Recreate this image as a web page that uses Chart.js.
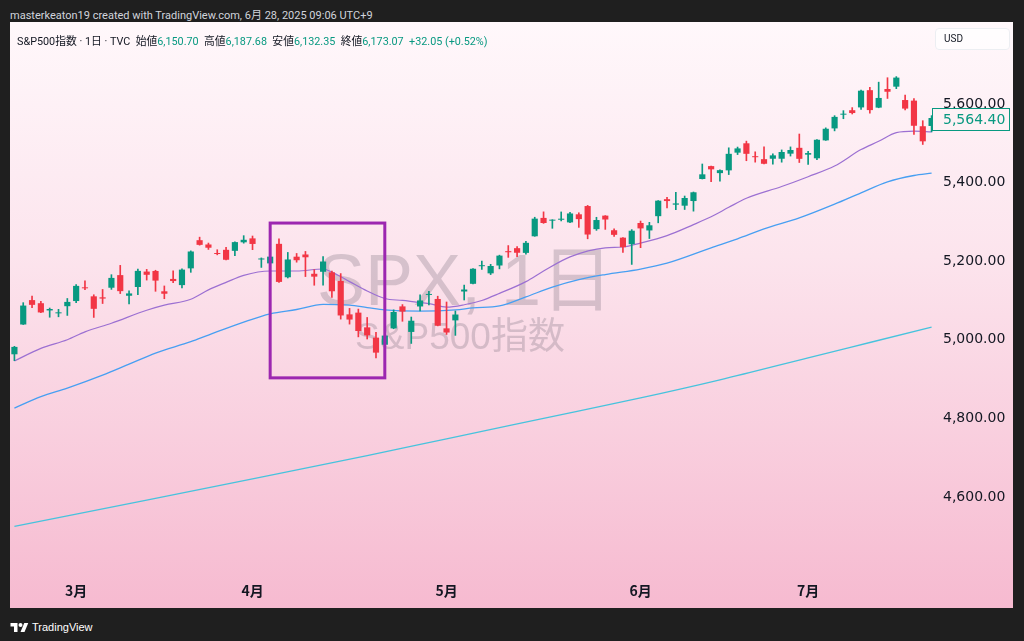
<!DOCTYPE html>
<html lang="ja">
<head>
<meta charset="utf-8">
<title>SPX, 1日</title>
<script src="https://cdn.jsdelivr.net/npm/chart.js@4"></script>
<style>
  html, body { margin: 0; padding: 0; }
  body { width: 1024px; height: 641px; background: #1f1f1f; position: relative; overflow: hidden;
         font-family: Roboto, "Noto Sans CJK JP", sans-serif; }
  #credit { position: absolute; left: 10px; top: 6px; font-size: 11px; color: #d1d4dc; }
  #panel { position: absolute; left: 10px; top: 22px; width: 1003px; height: 586px;
           background: linear-gradient(#fff8fb 0%, #fce4ed 40%, #f6bad0 100%); }
  #chart { position: absolute; left: 0; top: 0; }
  #legend { position: absolute; left: 7px; top: 10px; font-size: 10.8px; color: #131722; white-space: pre; }
  #legend .v { color: #089981; }
  #usd { position: absolute; left: 925px; top: 6px; width: 75px; height: 22px; box-sizing: border-box;
         border: 1px solid #eceef2; border-radius: 4px; background: rgba(255,255,255,0.7);
         font-size: 10px; color: #131722; line-height: 20px; padding-left: 8px; }
  #footer { position: absolute; left: 10px; top: 620px; height: 14px; display: flex; align-items: center;
            gap: 3px; color: #fff; font-family: "Liberation Sans Narrow", "Liberation Sans", sans-serif; font-size: 11px; }
</style>
</head>
<body>
<div id="credit">masterkeaton19 created with TradingView.com, 6月 28, 2025 09:06 UTC+9</div>
<div id="panel">
  <canvas id="chart" width="1003" height="586"></canvas>
  <div id="legend">S&amp;P500指数 · 1日 · TVC  始値<span class="v">6,150.70</span>  高値<span class="v">6,187.68</span>  安値<span class="v">6,132.35</span>  終値<span class="v">6,173.07</span>  <span class="v">+32.05 (+0.52%)</span></div>
  <div id="usd">USD</div>
</div>
<div id="footer">
  <svg width="19" height="11" viewBox="0 0 36 22"><path d="M14 20H7V9H0V2h14z" fill="#fff"/><circle cx="20" cy="6" r="4" fill="#fff"/><path d="M28 20h-8l7.5-18h8z" fill="#fff"/></svg>
  <span>TradingView</span>
</div>
<script>
// 日足 (2024/2/21 - 2024/7/22)
const dates = [
  '2024-02-21','2024-02-22','2024-02-23','2024-02-26','2024-02-27','2024-02-28','2024-02-29',
  '2024-03-01','2024-03-04','2024-03-05','2024-03-06','2024-03-07','2024-03-08','2024-03-11','2024-03-12','2024-03-13',
  '2024-03-14','2024-03-15','2024-03-18','2024-03-19','2024-03-20','2024-03-21','2024-03-22','2024-03-25','2024-03-26',
  '2024-03-27','2024-03-28',
  '2024-04-01','2024-04-02','2024-04-03','2024-04-04','2024-04-05','2024-04-08','2024-04-09','2024-04-10','2024-04-11',
  '2024-04-12','2024-04-15','2024-04-16','2024-04-17','2024-04-18','2024-04-19','2024-04-22','2024-04-23','2024-04-24',
  '2024-04-25','2024-04-26','2024-04-29','2024-04-30',
  '2024-05-01','2024-05-02','2024-05-03','2024-05-06','2024-05-07','2024-05-08','2024-05-09','2024-05-10','2024-05-13',
  '2024-05-14','2024-05-15','2024-05-16','2024-05-17','2024-05-20','2024-05-21','2024-05-22','2024-05-23','2024-05-24',
  '2024-05-28','2024-05-29','2024-05-30','2024-05-31',
  '2024-06-03','2024-06-04','2024-06-05','2024-06-06','2024-06-07','2024-06-10','2024-06-11','2024-06-12','2024-06-13',
  '2024-06-14','2024-06-17','2024-06-18','2024-06-20','2024-06-21','2024-06-24','2024-06-25','2024-06-26','2024-06-27',
  '2024-06-28',
  '2024-07-01','2024-07-02','2024-07-03','2024-07-05','2024-07-08','2024-07-09','2024-07-10','2024-07-11','2024-07-12',
  '2024-07-15','2024-07-16','2024-07-17','2024-07-18','2024-07-19','2024-07-22'
];

const opens = [
  4963.0, 5038.8, 5100.9, 5093.0, 5074.6, 5067.2, 5085.4,
  5098.5, 5131.0, 5110.5, 5108.0, 5132.4, 5164.5, 5112.0, 5134.3, 5173.5, 5175.1, 5123.3, 5154.8, 5139.1, 5181.7,
  5253.4, 5242.5, 5219.5, 5228.9, 5226.3, 5248.0,
  5258.0, 5204.3, 5194.4, 5244.1, 5159.0, 5211.4, 5217.0, 5167.9, 5173.0, 5171.5, 5149.7, 5064.6, 5069.0, 5031.5,
  5005.4, 4987.3, 5028.9, 5084.9, 5019.9, 5084.7, 5114.1, 5103.8,
  5029.0, 5049.3, 5122.8, 5142.4, 5187.2, 5169.0, 5189.0, 5225.5, 5233.1, 5221.1, 5263.3, 5310.1, 5303.1, 5305.4,
  5298.7, 5319.3, 5340.3, 5281.5, 5315.9, 5278.7, 5259.8, 5243.2,
  5297.2, 5278.2, 5314.5, 5357.8, 5343.8, 5341.2, 5353.0, 5409.1, 5441.9, 5424.1, 5431.1, 5476.2, 5500.0, 5466.8,
  5459.6, 5460.7, 5460.7, 5473.6, 5488.5,
  5471.1, 5461.8, 5507.4, 5537.9, 5572.8, 5584.2, 5591.3, 5635.2, 5590.8, 5638.2, 5644.1, 5610.1, 5608.6, 5543.4, 5544.1
];
const highs = [
  4983.2, 5094.4, 5111.1, 5097.7, 5080.7, 5077.4, 5105.0,
  5140.3, 5149.7, 5114.5, 5128.0, 5165.6, 5189.3, 5124.7, 5179.9, 5179.1, 5176.9, 5136.9, 5175.6, 5180.3, 5226.2,
  5261.1, 5246.1, 5229.1, 5235.2, 5249.3, 5264.9,
  5264.0, 5208.3, 5228.8, 5256.6, 5222.2, 5219.6, 5224.8, 5178.4, 5211.8, 5175.0, 5168.4, 5079.8, 5078.0, 5056.7,
  5019.0, 5038.8, 5076.1, 5089.5, 5057.8, 5114.6, 5123.5, 5110.8,
  5096.1, 5073.2, 5139.1, 5181.0, 5200.2, 5192.0, 5215.3, 5239.7, 5237.3, 5250.4, 5311.8, 5325.5, 5305.5, 5325.3,
  5324.3, 5323.2, 5341.9, 5311.7, 5315.9, 5282.3, 5260.2, 5280.3,
  5302.1, 5298.8, 5354.2, 5362.4, 5375.1, 5365.8, 5376.0, 5447.3, 5441.9, 5432.4, 5488.5, 5490.4, 5505.5, 5478.3,
  5490.7, 5472.9, 5483.1, 5490.8, 5523.6,
  5479.6, 5509.7, 5539.3, 5570.3, 5583.1, 5590.8, 5635.4, 5642.5, 5655.6, 5666.9, 5669.7, 5622.5, 5614.1, 5557.5, 5570.4
];
const lows = [
  4946.8, 5038.8, 5081.5, 5068.9, 5057.3, 5058.4, 5061.9,
  5094.2, 5127.2, 5056.8, 5092.2, 5128.2, 5117.5, 5091.1, 5114.5, 5151.9, 5123.3, 5104.4, 5145.5, 5131.6, 5171.6,
  5240.7, 5229.9, 5216.1, 5203.4, 5213.9, 5245.8,
  5229.2, 5184.1, 5194.4, 5146.1, 5157.2, 5197.4, 5160.8, 5138.7, 5138.8, 5107.9, 5052.5, 5039.8, 5007.3, 5001.9,
  4953.6, 4969.4, 5028.0, 5047.0, 4990.6, 5073.1, 5088.7, 5035.3,
  5013.5, 5011.1, 5101.2, 5142.4, 5179.0, 5165.9, 5180.4, 5209.7, 5211.2, 5218.0, 5263.3, 5296.2, 5283.6, 5302.4,
  5297.9, 5286.0, 5256.9, 5278.4, 5280.9, 5262.7, 5222.1, 5191.7,
  5234.3, 5257.6, 5297.6, 5335.4, 5331.3, 5331.5, 5327.3, 5409.1, 5402.5, 5403.8, 5420.4, 5471.3, 5455.6, 5452.0,
  5447.6, 5446.6, 5451.9, 5467.5, 5451.1,
  5446.5, 5458.4, 5507.4, 5531.6, 5562.5, 5574.6, 5586.4, 5576.5, 5590.4, 5614.1, 5639.0, 5584.8, 5522.8, 5497.0, 5529.0
];
const closes = [
  4981.8, 5087.0, 5088.8, 5069.5, 5078.2, 5069.8, 5096.3,
  5137.1, 5130.9, 5078.7, 5104.8, 5157.4, 5123.7, 5117.9, 5175.3, 5165.3, 5150.5, 5117.1, 5149.4, 5178.5, 5224.6,
  5241.5, 5234.2, 5218.2, 5203.6, 5248.5, 5254.4,
  5243.8, 5205.8, 5211.5, 5147.2, 5204.3, 5202.4, 5209.9, 5160.6, 5199.1, 5123.4, 5061.8, 5051.4, 5022.2, 5011.1,
  4967.2, 5010.6, 5070.6, 5071.6, 5048.4, 5100.0, 5116.2, 5035.7,
  5018.4, 5064.2, 5127.8, 5180.7, 5187.7, 5187.7, 5214.1, 5222.7, 5221.4, 5246.7, 5308.2, 5297.1, 5303.3, 5308.1,
  5321.4, 5307.0, 5267.8, 5304.7, 5306.0, 5267.0, 5235.5, 5277.5,
  5283.4, 5291.3, 5354.0, 5353.0, 5347.0, 5360.8, 5375.3, 5421.0, 5433.7, 5431.6, 5473.2, 5487.0, 5473.2, 5464.6,
  5447.9, 5469.3, 5477.9, 5482.9, 5460.5,
  5475.1, 5509.0, 5537.0, 5567.2, 5572.9, 5577.0, 5633.9, 5584.5, 5615.4, 5631.2, 5667.2, 5588.3, 5544.6, 5505.0, 5564.4
];

// 移動平均線 (チャートから読み取り)
const ma20Dates = ['2024-02-21','2024-02-26','2024-02-29','2024-03-04','2024-03-07','2024-03-13','2024-03-15','2024-03-20',
  '2024-03-22','2024-03-26','2024-03-28','2024-04-03','2024-04-08','2024-04-11','2024-04-12','2024-04-16','2024-04-18',
  '2024-04-22','2024-04-24','2024-04-29','2024-05-01','2024-05-03','2024-05-07','2024-05-09','2024-05-14','2024-05-16',
  '2024-05-21','2024-05-28','2024-05-30','2024-06-03','2024-06-06','2024-06-11','2024-06-13','2024-06-17','2024-06-20',
  '2024-06-26','2024-07-01','2024-07-05','2024-07-10','2024-07-12','2024-07-16','2024-07-18','2024-07-22'];
const ma20 = [4946, 4978, 5000, 5020, 5042, 5075, 5088, 5103, 5127, 5146, 5164, 5175, 5175, 5180, 5172, 5148, 5124,
  5105, 5100, 5092, 5083, 5089, 5100, 5118, 5148, 5175, 5211, 5234, 5236, 5246, 5265, 5293, 5313, 5337, 5360,
  5390, 5415, 5442, 5484, 5505, 5527, 5531, 5529];

const ma50Dates = ['2024-02-21','2024-02-26','2024-02-29','2024-03-06','2024-03-11','2024-03-14','2024-03-20','2024-03-22',
  '2024-03-28','2024-04-03','2024-04-08','2024-04-11','2024-04-16','2024-04-18','2024-04-22','2024-04-26','2024-05-02',
  '2024-05-06','2024-05-09','2024-05-14','2024-05-17','2024-05-22','2024-05-28','2024-06-03','2024-06-06','2024-06-13',
  '2024-06-18','2024-06-24','2024-06-28','2024-07-05','2024-07-10','2024-07-15','2024-07-18','2024-07-22'];
const ma50 = [4826, 4855, 4877, 4910, 4938, 4966, 4995, 5012, 5045, 5066, 5077, 5090, 5088, 5082, 5076, 5073, 5076,
  5081, 5086, 5109, 5134, 5153, 5166, 5180, 5195, 5234, 5257, 5282, 5310, 5345, 5374, 5402, 5418, 5424];

const ma200Dates = ['2024-02-21','2024-03-13','2024-04-01','2024-04-18','2024-05-01','2024-05-16','2024-06-03',
  '2024-06-14','2024-07-01','2024-07-11','2024-07-22'];
const ma200 = [4525, 4592, 4646, 4705, 4748, 4800, 4852, 4898, 4954, 4993, 5032];

const priceTicks = [4600, 4800, 5000, 5200, 5400, 5600];
const monthDates = ['2024-03-01', '2024-04-01', '2024-05-01', '2024-06-03', '2024-07-01'];
const monthLabels = ['3月', '4月', '5月', '6月', '7月'];

// 紫の四角 (4/3 - 4/22)
const boxDates = ['2024-04-03', '2024-04-22'];
const boxPrices = [5297, 4903];

const UP = '#089981', DOWN = '#f23645';
const candleColors = opens.map((o, i) => closes[i] >= o ? UP : DOWN);
const fmt = v => v.toLocaleString('en-US', { minimumFractionDigits: 2, maximumFractionDigits: 2 });
const pts = (ds, vs) => ds.map((d, i) => ({ x: d, y: vs[i] }));

const overlay = {
    id: 'overlay',
    beforeDatasetsDraw(chart) {
        const { ctx, chartArea: a } = chart;
        const cx = (a.left + a.right) / 2 - 8;
        ctx.save();
        ctx.fillStyle = 'rgba(105, 95, 112, 0.26)';
        ctx.textAlign = 'center';
        ctx.textBaseline = 'middle';
        ctx.font = '72px "Liberation Sans", "Noto Sans CJK JP", sans-serif';
        ctx.fillText('SPX, 1日', cx, 263);
        ctx.font = '37px "Liberation Sans", "Noto Sans CJK JP", sans-serif';
        ctx.fillText('S&P500指数', cx - 5, 317);
        ctx.restore();
    },
    afterDatasetsDraw(chart) {
        const { ctx, scales: { x, y } } = chart;
        const x0 = x.getPixelForValue(dates.indexOf(boxDates[0]));
        const x1 = x.getPixelForValue(dates.indexOf(boxDates[1]));
        const y0 = y.getPixelForValue(boxPrices[0]);
        const y1 = y.getPixelForValue(boxPrices[1]);
        ctx.save();
        ctx.strokeStyle = '#9c27b0';
        ctx.lineWidth = 3;
        ctx.strokeRect(x0, y0, x1 - x0, y1 - y0);
        ctx.restore();
    },
    afterDraw(chart) {
        // 最終値ラベル
        const { ctx, scales: { y } } = chart;
        const last = closes[closes.length - 1];
        const py = Math.round(y.getPixelForValue(last)) + 1;
        ctx.save();
        ctx.fillStyle = '#fdf1f5';
        ctx.fillRect(y.left - 4, py - 11, 78, 23);
        ctx.strokeStyle = UP;
        ctx.lineWidth = 1;
        ctx.strokeRect(y.left - 3.5, py - 10.5, 77, 22);
        ctx.fillStyle = UP;
        ctx.font = '14px "DejaVu Sans", sans-serif';
        ctx.textBaseline = 'middle';
        ctx.fillText(fmt(last), y.left + 7, py + 1);
        ctx.restore();
    }
};

Chart.defaults.font.family = '"DejaVu Sans", "Noto Sans CJK JP", sans-serif';
Chart.defaults.color = '#131722';

new Chart(document.getElementById('chart'), {
    type: 'bar',
    data: {
        labels: dates,
        datasets: [
            {
                label: 'body',
                data: opens.map((o, i) => [o, closes[i]]),
                backgroundColor: candleColors,
                barPercentage: 0.7,
                categoryPercentage: 1,
                minBarLength: 1,
                grouped: false,
                order: 0
            },
            {
                label: 'wick',
                data: lows.map((l, i) => [l, highs[i]]),
                backgroundColor: candleColors,
                barThickness: 1,
                grouped: false,
                order: 1
            },
            {
                type: 'line', label: 'MA20', data: pts(ma20Dates, ma20),
                borderColor: '#9c70d2', borderWidth: 1.2, pointRadius: 0,
                cubicInterpolationMode: 'monotone', order: 2
            },
            {
                type: 'line', label: 'MA50', data: pts(ma50Dates, ma50),
                borderColor: '#479ff2', borderWidth: 1.3, pointRadius: 0,
                cubicInterpolationMode: 'monotone', order: 3
            },
            {
                type: 'line', label: 'MA200', data: pts(ma200Dates, ma200),
                borderColor: '#47c3dd', borderWidth: 1.3, pointRadius: 0,
                cubicInterpolationMode: 'monotone', order: 4
            }
        ]
    },
    options: {
        responsive: false,
        animation: false,
        layout: { padding: 0 },
        plugins: { legend: { display: false }, tooltip: { enabled: false } },
        scales: {
            x: {
                offset: true,
                grid: { display: false, drawTicks: false },
                border: { display: false },
                ticks: {
                    autoSkip: false,
                    maxRotation: 0,
                    padding: 10,
                    font: { size: 14, weight: '600', family: '"Noto Sans CJK JP", sans-serif' },
                    callback: (v, i) => {
                        const k = monthDates.indexOf(dates[i]);
                        return k >= 0 ? monthLabels[k] : '';
                    }
                },
                afterFit: s => { s.height = 36; s.paddingLeft = 0; s.paddingRight = 0; }
            },
            y: {
                position: 'right',
                min: 4408.9,
                max: 5808.7,
                grid: { display: false, drawTicks: false },
                border: { display: false },
                ticks: { padding: 7, font: { size: 14 }, callback: v => fmt(v) },
                afterBuildTicks: s => { s.ticks = priceTicks.map(v => ({ value: v })); },
                afterFit: s => { s.width = 77; s.paddingTop = 0; s.paddingBottom = 0; }
            }
        }
    },
    plugins: [overlay]
});
</script>
</body>
</html>
